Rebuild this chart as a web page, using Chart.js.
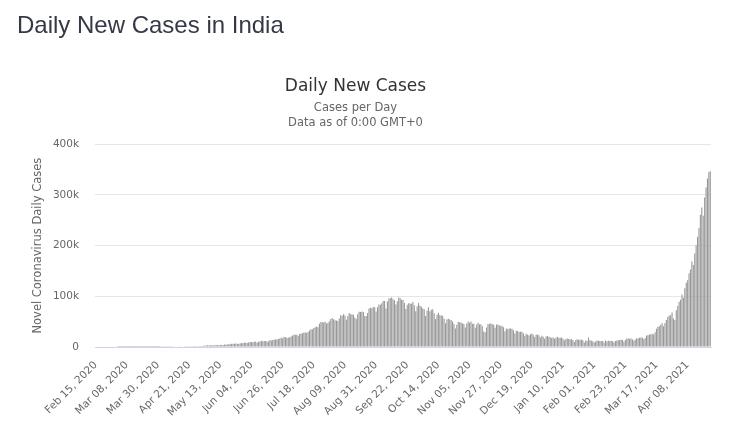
<!DOCTYPE html>
<html><head><meta charset="utf-8">
<script src="https://cdn.jsdelivr.net/npm/chart.js@4/dist/chart.umd.min.js"></script>
<style>
html,body{margin:0;padding:0;background:#fff;width:750px;height:429px;overflow:hidden}
#wrap{position:relative;width:750px;height:429px}
#pageTitle{position:absolute;left:17px;top:13px;margin:0;font-family:"Liberation Sans",Arial,sans-serif;font-size:24px;line-height:24px;font-weight:normal;color:#363945}
canvas{position:absolute;left:0;top:0}
</style></head><body>
<div id="wrap"><canvas id="c" width="750" height="429"></canvas><h1 id="pageTitle">Daily New Cases in India</h1></div>
<script>
// ---- Data (daily new cases, India) ----
const startDate = '2020-02-15';
const feb2020 = [0,0,0,0,0,0,0,0,0,0,0,0,0,0,0];
const mar2020 = [0,2,1,22,2,1,3,5,9,15,8,10,10,12,22,12,23,14,28,58,76,73,97,86,88,75,153,136,106,227,146];
const apr2020 = [601,545,478,578,505,704,508,485,591,896,768,918,796,1291,1076,941,1007,1288,1412,1384,1486,1290,1667,1408,1835,1607,1568,1902,1705,1801];
const may2020 = [2396,2564,2952,3656,2971,3602,3344,3339,3175,4311,3592,3562,3726,3942,3787,4864,5050,4630,6147,5611,6198,6568,6629,7111,6414,5843,7293,7300,7964,8380,8789];
const jun2020 = [7723,8821,9633,9889,9471,10438,10864,8442,10218,10956,12375,11157,11929,12032,11086,10667,13826,12881,13586,14516,15413,14831,15968,16868,18205,17296,20131,19459,18339,18256];
const jul2020 = [19428,20903,22721,24018,24248,23942,22254,25561,26506,27114,28606,28701,28179,29842,32695,34884,34820,37411,38902,40425,39170,45720,49310,48916,48661,49937,46484,47704,50601,55078,57118];
const aug2020 = [54735,52972,52050,51282,56282,62538,61537,64399,62064,53601,60963,66999,64553,64732,63490,57981,55018,64572,69672,68898,69878,69239,61408,60975,67151,75760,77266,76472,78761,78512,69921];
const sep2020 = [78357,83883,83341,86432,90632,90802,75809,89706,95735,96551,97570,94372,92071,83809,90123,97894,96424,93337,92605,86961,75083,83347,86508,86052,85362,88600,82170,70589,80472,86821];
const oct2020 = [81484,79476,75829,74442,61267,72049,78524,70496,73272,74383,66732,55342,63509,67708,63371,62212,61871,55722,46790,54044,55839,54366,53370,50129,45148,36469,43893,49881,48648,48268,46963];
const nov2020 = [45231,38310,46253,50210,47638,50356,45674,45903,38073,44281,47905,44879,44684,41100,30548,29164,38617,45576,45882,46232,45209,44059,37975,44376,44489,43082,41322,41810,38772,31118];
const dec2020 = [36604,35551,36595,36652,36011,32981,26567,32080,31521,29398,30006,30254,27071,22065,26382,24010,22890,25152,26624,24337,19556,23950,24712,23068,18732,22273,20021,16432,20549,21822,20036];
const jan2021 = [19079,18177,18732,16505,18088,20346,18139,18222,18645,16311,12584,15968,16946,15590,15158,15144,13788,10064,13823,15223,14545,14256,14849,13203,9102,12689,11666,18855,13083,13052,11427];
const feb2021 = [8635,11039,12899,12408,11713,12059,11831,9110,12923,11067,12143,11649,12194,11427,9121,11610,12881,13193,13993,14264,14199,10584,13742,16738,16577,16488,16752,15510];
const mar2021 = [12286,14989,17407,16838,18327,18711,18599,15388,17921,22854,23285,24882,25320,26291,24492,28903,35871,39726,40953,43846,46951,40715,47262,53476,59118,62258,62714,68020,56211,53480,72330];
const apr2021 = [81466,89129,93249,103558,96982,115736,126789,131968,145384,152879,168912,161736,184372,200739,217353,234692,260778,275306,259167,295158,314644,332503,345147,346786];
const yTicks = [0,100000,200000,300000,400000];
const yTickLabels = ['0','100k','200k','300k','400k'];
const tickEvery = 22;

const dailyCases = [].concat(feb2020,mar2020,apr2020,may2020,jun2020,jul2020,aug2020,sep2020,oct2020,nov2020,dec2020,jan2021,feb2021,mar2021,apr2021);
const monthNames = ['Jan','Feb','Mar','Apr','May','Jun','Jul','Aug','Sep','Oct','Nov','Dec'];
const categories = [];
{
  const d0 = new Date(startDate + 'T00:00:00Z');
  for (let i = 0; i < dailyCases.length; i++) {
    const d = new Date(d0.getTime() + i*86400000);
    const dd = String(d.getUTCDate()).padStart(2,'0');
    categories.push(monthNames[d.getUTCMonth()] + ' ' + dd + ', ' + d.getUTCFullYear());
  }
}

Chart.defaults.font.family = '"DejaVu Sans", sans-serif';
new Chart(document.getElementById('c'), {
  type: 'bar',
  data: {
    labels: categories,
    datasets: [{
      label: 'Daily Cases',
      data: dailyCases,
      backgroundColor: '#999999',
      borderWidth: 0,
      barPercentage: 0.78,
      categoryPercentage: 1.0
    }]
  },
  options: {
    responsive: false,
    animation: false,
    layout: { padding: { left: 0, right: 39, top: 0, bottom: 0 } },
    plugins: {
      legend: { display: false },
      tooltip: { enabled: false },
      title: {
        display: true,
        text: 'Daily New Cases',
        color: '#333333',
        font: { size: 17, weight: 'normal', lineHeight: 1.2 },
        padding: { top: 76, bottom: 4 }
      },
      subtitle: {
        display: true,
        text: ['Cases per Day', 'Data as of 0:00 GMT+0'],
        color: '#666666',
        font: { size: 11.5, weight: 'normal', lineHeight: 1.3 },
        padding: { top: 0, bottom: 14 }
      }
    },
    scales: {
      x: {
        offset: true,
        grid: { display: false },
        border: { display: true, color: '#ccd6eb', width: 1 },
        ticks: {
          autoSkip: false,
          minRotation: 45,
          maxRotation: 45,
          padding: 4,
          color: '#666666',
          font: { size: 10.5 },
          callback: function(v, i) { return i % tickEvery === 0 ? categories[i] : ''; }
        },
        afterFit: function(s) { s.height = 82; }
      },
      y: {
        min: 0,
        max: 400000,
        afterBuildTicks: function(s) { s.ticks = yTicks.map(v => ({ value: v })); },
        grid: {
          drawTicks: false,
          color: function(ctx) { return ctx.tick && ctx.tick.value === 0 ? '#ccd6eb' : '#e6e6e6'; }
        },
        border: { display: false },
        ticks: {
          padding: 16,
          color: '#666666',
          font: { size: 10.5 },
          callback: function(v) { const k = yTicks.indexOf(v); return k >= 0 ? yTickLabels[k] : ''; }
        },
        title: {
          display: true,
          text: 'Novel Coronavirus Daily Cases',
          color: '#666666',
          font: { size: 11.5 },
          padding: { top: 31, bottom: 0 }
        },
        afterFit: function(s) { s.width = 95; }
      }
    }
  }
});
</script>
</body></html>
